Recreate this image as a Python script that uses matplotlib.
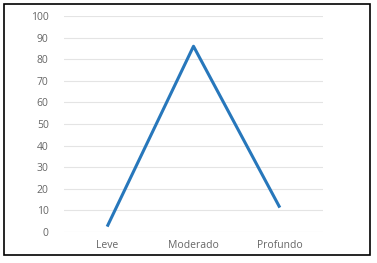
import numpy as np
import matplotlib
matplotlib.use("Agg")
import matplotlib.pyplot as plt
from matplotlib.patches import Rectangle

# data
categorias = ["Leve", "Moderado", "Profundo"]
valores = [2.5, 86, 11.3]
yticks = [0, 10, 20, 30, 40, 50, 60, 70, 80, 90, 100]

W, H = 377, 263
fig = plt.figure(figsize=(W / 100, H / 100), dpi=100)

# outer frame like the pasted excel chart
fig.patches.append(Rectangle((4 / W, 8 / H), 366 / W, 251 / H, transform=fig.transFigure,
                             fill=False, edgecolor="black", linewidth=1.2))

ax = fig.add_axes([64 / W, (H - 232) / H, (323 - 64) / W, (232 - 16) / H])
x = np.arange(len(categorias))
ax.plot(x, valores, color="#2777BB", linewidth=2.2, solid_capstyle="butt")

ax.set_xlim(-0.5, len(categorias) - 0.5)
ax.set_ylim(0, 100)
ax.set_yticks(yticks)
ax.set_xticks(x)
ax.set_xticklabels(categorias)
ax.yaxis.grid(True, color="#E4E4E4", linewidth=0.8)
ax.set_axisbelow(True)
for s in ax.spines.values():
    s.set_visible(False)
ax.tick_params(length=0, labelsize=7.5, labelcolor="#666666", pad=6)
ax.tick_params(axis="y", pad=11)
for lab in ax.get_xticklabels() + ax.get_yticklabels():
    lab.set_family("Open Sans")

fig.savefig("out.png", dpi=100)
